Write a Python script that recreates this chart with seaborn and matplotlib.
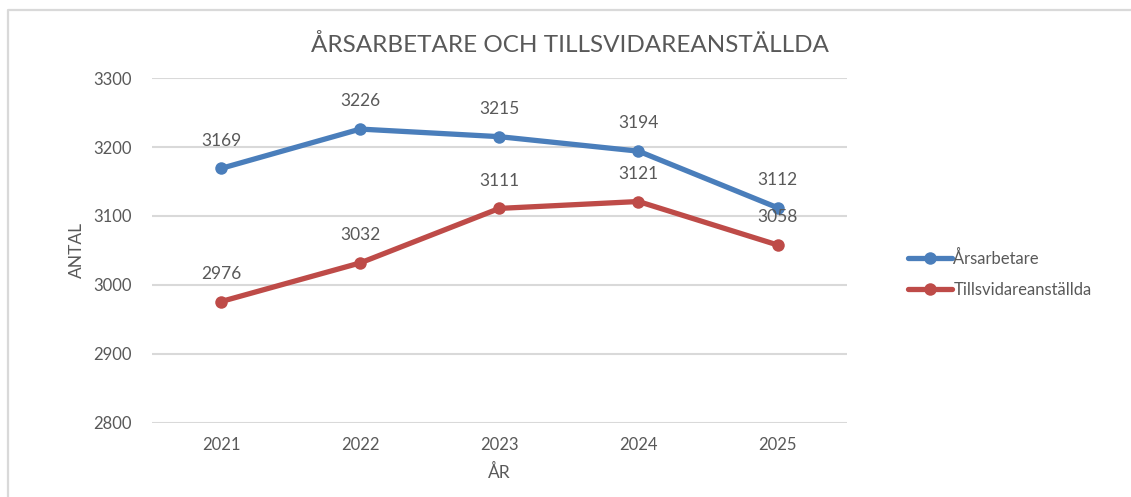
import pandas as pd
import matplotlib.pyplot as plt
import seaborn as sns
from matplotlib.lines import Line2D

years = [2021, 2022, 2023, 2024, 2025]
arsarbetare = [3169, 3226, 3215, 3194, 3112]
tillsvidare = [2976, 3032, 3111, 3121, 3058]
series_names = ['Årsarbetare', 'Tillsvidareanställda']

df = pd.DataFrame({
    'År': years * 2,
    'Antal': arsarbetare + tillsvidare,
    'Serie': [series_names[0]] * 5 + [series_names[1]] * 5,
})

sns.set_style("white")
plt.rcParams['font.family'] = ['Lato', 'DejaVu Sans']
text_col = '#595959'
palette = {series_names[0]: '#4A7EBB', series_names[1]: '#BE4B48'}

fig = plt.figure(figsize=(11.31, 4.97), dpi=100)
ax = fig.add_axes([0.134, 0.149, 0.615, 0.694])

sns.lineplot(data=df, x='År', y='Antal', hue='Serie', palette=palette,
             marker='o', markersize=9, markeredgewidth=0, linewidth=3.8,
             ax=ax, legend=False)

for _, row in df.iterrows():
    ax.annotate(str(row['Antal']), (row['År'], row['Antal']),
                xytext=(0, 20), textcoords='offset points',
                ha='center', va='center', fontsize=12.5, color=text_col)

ax.set_xlim(2020.5, 2025.5)
ax.set_ylim(2800, 3300)
ax.set_xticks(years)
ax.set_xticklabels([str(y) for y in years])
ax.set_yticks(range(2800, 3301, 100))
ax.grid(axis='y', color='#D9D9D9', linewidth=1.5)
ax.set_axisbelow(True)
for s in ax.spines.values():
    s.set_visible(False)
ax.tick_params(axis='both', length=0, labelsize=12, labelcolor=text_col)
ax.tick_params(axis='y', pad=14)
ax.tick_params(axis='x', pad=10)

ax.set_xlabel('ÅR', fontsize=12.5, color=text_col, labelpad=8)
ax.set_ylabel('ANTAL', fontsize=12.5, color=text_col, labelpad=6)
fig.text(0.504, 0.91, 'ÅRSARBETARE OCH TILLSVIDAREANSTÄLLDA',
         ha='center', va='center', fontsize=17.5, color=text_col)

handles = [Line2D([], [], color=palette[n], lw=3.8, marker='o',
                  markersize=9, markeredgewidth=0) for n in series_names]
leg = fig.legend(handles, series_names, loc='center left',
                 bbox_to_anchor=(0.79, 0.449), frameon=False,
                 fontsize=12, handlelength=2.6, handletextpad=0.1,
                 labelspacing=0.9)
for t in leg.get_texts():
    t.set_color(text_col)

# outer chart border (clipped at right and bottom)
bx, by = 8 / 1131, 1 - 10 / 497
fig.add_artist(Line2D([bx, bx, 1.0], [0.0, by, by], color='#D9D9D9',
                      lw=1.6, transform=fig.transFigure))

fig.savefig('out.png', dpi=100)
